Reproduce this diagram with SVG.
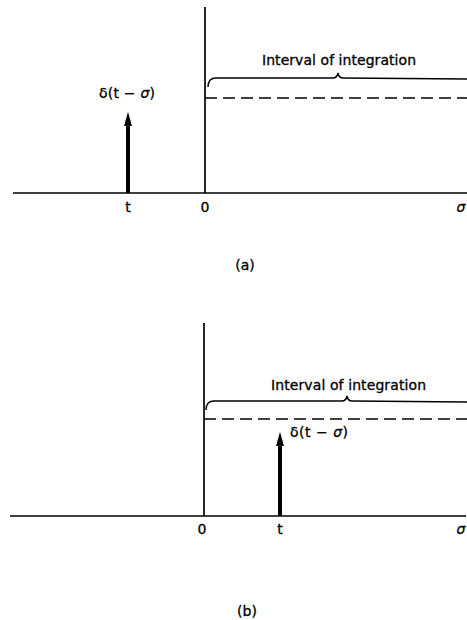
<svg xmlns="http://www.w3.org/2000/svg" width="467" height="620" viewBox="0 0 467 620">
<style>
.ax{stroke:#000;stroke-width:1.7;fill:none}
.br{stroke:#000;stroke-width:1.4;fill:none}
.dash{stroke:#000;stroke-width:1.3;stroke-dasharray:12 6;fill:none}
.imp{stroke:#000;stroke-width:4;fill:none}
text{font-family:"DejaVu Sans","Liberation Sans",Arial,sans-serif;font-size:14px;fill:#000;stroke:#000;stroke-width:0.3}
.it{font-style:italic}
</style>
<g id="panel-a">
<g id="connectors-a">
<line class="ax" x1="13" y1="193" x2="467" y2="193"/>
<line class="ax" x1="205" y1="7" x2="205" y2="193"/>
<line class="dash" x1="205" y1="98" x2="467" y2="98"/>
<path class="br" d="M208,87 Q208,78 216,78 L333,78 Q337,78 338,73 Q339,78 343,78 L467,79"/>
<line class="imp" x1="128" y1="193" x2="128" y2="124"/>
<path d="M124,126 L128,112 L132,126 Z" fill="#000"/>
</g>
<g id="label-delta-a"><text x="99" y="98" textLength="56">δ(t − <tspan class="it">σ</tspan>)</text></g>
<g id="label-interval-a"><text x="262" y="65" textLength="154">Interval of integration</text></g>
<g id="tick-t-a"><text x="128" y="212" text-anchor="middle">t</text></g>
<g id="tick-0-a"><text x="205" y="212" text-anchor="middle">0</text></g>
<g id="tick-sigma-a"><text x="461" y="212" text-anchor="middle" class="it">σ</text></g>
<g id="caption-a"><text x="245" y="270" text-anchor="middle">(a)</text></g>
</g>
<g id="panel-b">
<g id="connectors-b">
<line class="ax" x1="10" y1="516" x2="466" y2="516"/>
<line class="ax" x1="204" y1="323" x2="204" y2="516"/>
<line class="dash" x1="204" y1="419" x2="467" y2="419"/>
<path class="br" d="M206,410 Q206,401 214,401 L342,401 Q346,401 347,396 Q348,401 352,401 L467,402"/>
<line class="imp" x1="280" y1="516" x2="280" y2="444"/>
<path d="M276,446 L280,432 L284,446 Z" fill="#000"/>
</g>
<g id="label-delta-b"><text x="290" y="437" textLength="58">δ(t − <tspan class="it">σ</tspan>)</text></g>
<g id="label-interval-b"><text x="271" y="390" textLength="155">Interval of integration</text></g>
<g id="tick-0-b"><text x="202" y="534" text-anchor="middle">0</text></g>
<g id="tick-t-b"><text x="280" y="534" text-anchor="middle">t</text></g>
<g id="tick-sigma-b"><text x="461" y="534" text-anchor="middle" class="it">σ</text></g>
<g id="caption-b"><text x="247" y="616" text-anchor="middle">(b)</text></g>
</g>
</svg>
